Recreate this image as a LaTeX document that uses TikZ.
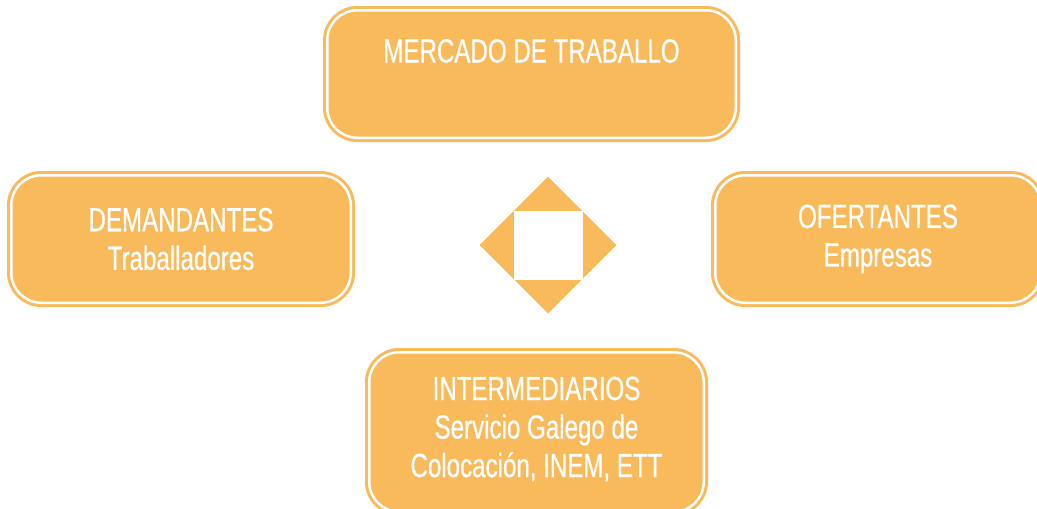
\documentclass[tikz,border=0pt]{standalone}
\usepackage{fontspec}
\setmainfont[FakeStretch=0.72,FakeBold=0.6]{Liberation Sans}
\usetikzlibrary{positioning,shapes.geometric}
\definecolor{laranxa}{HTML}{F9BA5B}

\begin{document}
\begin{tikzpicture}[x=1pt,y=-1pt,
  caixa/.style={rounded corners=30pt, fill=laranxa, draw=laranxa, line width=3pt,
    double=white, double distance=2.5pt, inner sep=0pt, text=white, align=center,
    font=\fontsize{33.5}{38.5}\selectfont},
  texto/.style={text=white, inner sep=0pt, font=\fontsize{33.5}{38.5}\selectfont},
  ]
  \useasboundingbox (0,0) rectangle (1037,509);
  \clip (0,0) rectangle (1037,509);

  \node[caixa, minimum width=408.5pt, minimum height=127.5pt] (mercado) at (531.5,74) {};
  \node[texto] (mercadotxt) at (531.5,51) {MERCADO DE TRABALLO};
  \node[caixa, minimum width=339.5pt, minimum height=127.5pt] (demandantes) at (181,239)
    {DEMANDANTES\\Traballadores};
  \node[caixa, minimum width=325.5pt, minimum height=127.5pt] (ofertantes) at (878,239)
    {OFERTANTES\\Empresas};
  \node[caixa, minimum width=334.5pt, minimum height=159.5pt] (intermediarios) at (536.5,432) {};
  \node[texto, align=center] (intermediariostxt) at (536.5,429)
    {INTERMEDIARIOS\\Servicio Galego de\\Colocación, INEM, ETT};

  % rombo central
  \node[diamond, fill=laranxa, inner sep=0pt, minimum width=137pt, minimum height=137pt] (rombo) at (548,245) {};
  \node[fill=white, inner sep=0pt, minimum size=69pt] (cadro) at (rombo.center) {};
\end{tikzpicture}
\end{document}
